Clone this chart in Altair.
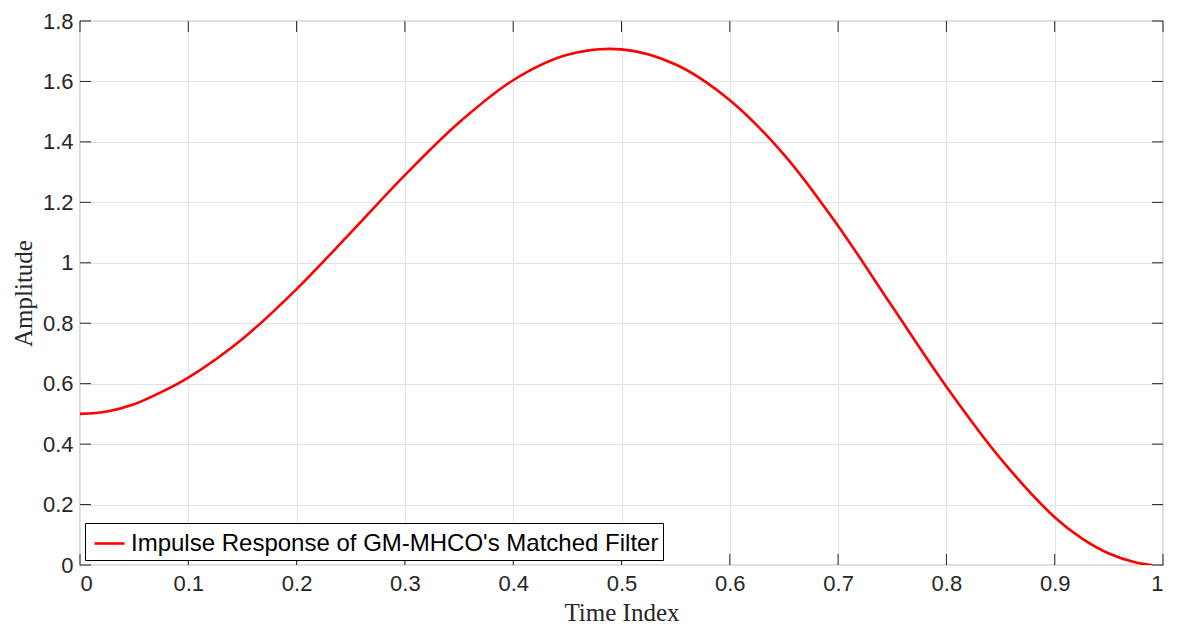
import altair as alt
import pandas as pd

# ---- data ----
time_index = [0.00, 0.025, 0.05, 0.075, 0.10, 0.15, 0.20, 0.25, 0.30, 0.35, 0.40, 0.45, 0.50,
              0.55, 0.60, 0.65, 0.70, 0.75, 0.80, 0.85, 0.90, 0.925, 0.95, 0.975, 0.99]
amplitude = [0.500, 0.508, 0.532, 0.572, 0.620, 0.748, 0.913, 1.100, 1.290, 1.464, 1.604, 1.688, 1.706,
             1.656, 1.538, 1.358, 1.122, 0.855, 0.590, 0.352, 0.158, 0.088, 0.038, 0.008, 0.000]
series_name = "Impulse Response of GM-MHCO's Matched Filter"
x_ticks = [0, 0.1, 0.2, 0.3, 0.4, 0.5, 0.6, 0.7, 0.8, 0.9, 1]
y_ticks = [0, 0.2, 0.4, 0.6, 0.8, 1, 1.2, 1.4, 1.6, 1.8]

W, H = 1083, 544
TICK = 11
TICK_COLOR = "#262626"

df = pd.DataFrame({"t": time_index, "a": amplitude, "s": series_name})
xt = pd.DataFrame({"t": x_ticks})
yt = pd.DataFrame({"a": y_ticks})

xscale = alt.Scale(domain=[0, 1], nice=False, zero=False)
yscale = alt.Scale(domain=[0, 1.8], nice=False, zero=False)
xaxis = alt.Axis(values=x_ticks, format="~g", title="Time Index", grid=True)
yaxis = alt.Axis(values=y_ticks, format="~g", title="Amplitude", grid=True)

line = alt.Chart(df).mark_line(strokeWidth=2.6, interpolate="catmull-rom", clip=True).encode(
    x=alt.X("t:Q", scale=xscale, axis=xaxis),
    y=alt.Y("a:Q", scale=yscale, axis=yaxis),
    color=alt.Color("s:N", scale=alt.Scale(range=["#ff0000"]),
                    legend=alt.Legend(title=None, orient="bottom-left")),
)

bottom_ticks = alt.Chart(xt).mark_rule(color=TICK_COLOR, strokeWidth=1).encode(
    x=alt.X("t:Q", scale=xscale, axis=xaxis), y=alt.value(H), y2=alt.value(H - TICK))
top_ticks = alt.Chart(xt).mark_rule(color=TICK_COLOR, strokeWidth=1).encode(
    x=alt.X("t:Q", scale=xscale, axis=xaxis), y=alt.value(0), y2=alt.value(TICK))
left_ticks = alt.Chart(yt).mark_rule(color=TICK_COLOR, strokeWidth=1).encode(
    y=alt.Y("a:Q", scale=yscale, axis=yaxis), x=alt.value(0), x2=alt.value(TICK))
right_ticks = alt.Chart(yt).mark_rule(color=TICK_COLOR, strokeWidth=1).encode(
    y=alt.Y("a:Q", scale=yscale, axis=yaxis), x=alt.value(W), x2=alt.value(W - TICK))

chart = alt.layer(bottom_ticks, top_ticks, left_ticks, right_ticks, line).properties(
    width=W, height=H,
    padding={"left": 72, "top": 13, "right": 10, "bottom": 61},
    autosize=alt.AutoSizeParams(type="none"),
    background="white",
).configure_view(
    stroke="#808080", strokeWidth=1.2
).configure_axis(
    domain=False, ticks=False, gridColor="#e2e2e2", gridWidth=1,
    labelFont="Liberation Sans", labelFontSize=22, labelColor="#262626",
    titleFont="Liberation Serif", titleFontSize=25, titleFontWeight="normal", titleColor="#262626",
).configure_axisX(
    labelPadding=8, titlePadding=6
).configure_axisY(
    labelPadding=7, titlePadding=6
).configure_legend(
    offset=5, fillColor="white", strokeColor="#000000", padding=4,
    symbolType="stroke", symbolSize=900, symbolStrokeWidth=2.6, symbolOffset=4,
    labelFont="Liberation Sans", labelFontSize=24, labelColor="#000000", labelOffset=5,
    labelLimit=0,
)

chart.save("out.html", embed_options={"renderer": "svg", "actions": False})
